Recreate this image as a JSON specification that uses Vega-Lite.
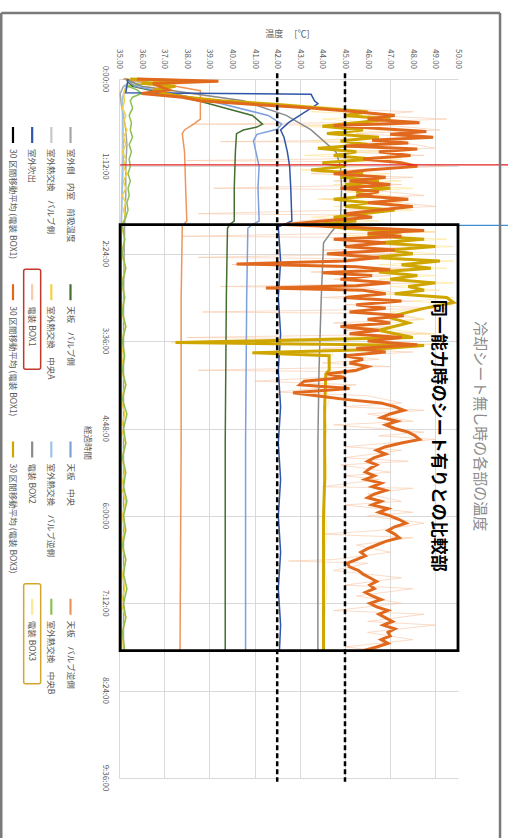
{
"$schema": "https://vega.github.io/schema/vega-lite/v6.json",
"background": "white",
"padding": {"left": 0, "top": 11, "right": 0, "bottom": 0},
"autosize": {"type": "pad"},
"bounds": "flush",
"spacing": 19,
"config": {"view": {"stroke": null}, "font": "Noto Sans CJK JP"},
"datasets": {
"legend": [
{"s":"s1","label":"室外側　内室　前吸温度","row":1,"slot":0},
{"s":"s2","label":"天板　バルブ側","row":1,"slot":1},
{"s":"s3","label":"天板　中央","row":1,"slot":2},
{"s":"s4","label":"天板　バルブ逆側","row":1,"slot":3},
{"s":"s5","label":"室外熱交換　バルブ側","row":2,"slot":0},
{"s":"s6","label":"室外熱交換　中央A","row":2,"slot":1},
{"s":"s7","label":"室外熱交換　バルブ逆側","row":2,"slot":2},
{"s":"s8","label":"室外熱交換　中央B","row":2,"slot":3},
{"s":"s9","label":"室外吹出","row":3,"slot":0},
{"s":"s10","label":"電装 BOX1","row":3,"slot":1},
{"s":"s11","label":"電装 BOX2","row":3,"slot":2},
{"s":"s12","label":"電装 BOX3","row":3,"slot":3},
{"s":"s13","label":"30 区間移動平均 (電装 BOX1)","row":4,"slot":0},
{"s":"s14","label":"30 区間移動平均 (電装 BOX1)","row":4,"slot":1},
{"s":"s15","label":"30 区間移動平均 (電装 BOX3)","row":4,"slot":2}
],
"boxes": [{"box":"BOX1","row":3,"slot":1},{"box":"BOX3","row":3,"slot":3}],
"vticks": [{"tick":35},{"tick":36},{"tick":37},{"tick":38},{"tick":39},{"tick":40},{"tick":41},{"tick":42},{"tick":43},{"tick":44},{"tick":45},{"tick":46},{"tick":47},{"tick":48},{"tick":49},{"tick":50}],
"tticks": [{"tick":0,"lab":"0:00:00"},{"tick":1.2,"lab":"1:12:00"},{"tick":2.4,"lab":"2:24:00"},{"tick":3.6,"lab":"3:36:00"},{"tick":4.8,"lab":"4:48:00"},{"tick":6.0,"lab":"6:00:00"},{"tick":7.2,"lab":"7:12:00"},{"tick":8.4,"lab":"8:24:00"},{"tick":9.6,"lab":"9:36:00"}],
"series": [
{"s":"s1","t":0,"v":35.9},{"s":"s1","t":0.05,"v":35.5},{"s":"s1","t":0.1,"v":35.2},{"s":"s1","t":0.2,"v":35.05},{"s":"s1","t":0.35,"v":35.1},{"s":"s1","t":0.5,"v":35.2},{"s":"s1","t":0.7,"v":35.3},{"s":"s1","t":0.9,"v":35.35},{"s":"s1","t":1.2,"v":35.3},{"s":"s1","t":1.6,"v":35.3},{"s":"s1","t":2.0,"v":35.25},{"s":"s1","t":3,"v":35.2},{"s":"s1","t":5,"v":35.2},{"s":"s1","t":7.85,"v":35.2},
{"s":"s5","t":0,"v":35.2},{"s":"s5","t":0.05,"v":36.2},{"s":"s5","t":0.12,"v":35.3},{"s":"s5","t":0.25,"v":35.15},{"s":"s5","t":1,"v":35.15},{"s":"s5","t":2,"v":35.1},{"s":"s5","t":4,"v":35.1},{"s":"s5","t":7.85,"v":35.1},
{"s":"s7","t":0,"v":35.5},{"s":"s7","t":0.04,"v":36.0},{"s":"s7","t":0.1,"v":35.3},{"s":"s7","t":0.3,"v":35.15},{"s":"s7","t":1,"v":35.2},{"s":"s7","t":2,"v":35.1},{"s":"s7","t":4,"v":35.1},{"s":"s7","t":7.85,"v":35.1},
{"s":"s6","t":0,"v":35.3},{"s":"s6","t":0.03,"v":37.2},{"s":"s6","t":0.07,"v":35.6},{"s":"s6","t":0.12,"v":35.3},{"s":"s6","t":0.2,"v":35.2},{"s":"s6","t":0.3,"v":35.25},{"s":"s6","t":0.4,"v":35.15},{"s":"s6","t":0.5,"v":35.3},{"s":"s6","t":0.6,"v":35.2},{"s":"s6","t":0.7,"v":35.35},{"s":"s6","t":0.8,"v":35.2},{"s":"s6","t":0.9,"v":35.3},{"s":"s6","t":1.0,"v":35.15},{"s":"s6","t":1.1,"v":35.3},{"s":"s6","t":1.2,"v":35.2},{"s":"s6","t":1.3,"v":35.35},{"s":"s6","t":1.4,"v":35.2},{"s":"s6","t":1.5,"v":35.3},{"s":"s6","t":1.6,"v":35.15},{"s":"s6","t":1.7,"v":35.3},{"s":"s6","t":1.8,"v":35.2},{"s":"s6","t":1.9,"v":35.3},{"s":"s6","t":2.0,"v":35.1},{"s":"s6","t":2.2,"v":35.25},{"s":"s6","t":2.4,"v":35.1},{"s":"s6","t":2.6,"v":35.3},{"s":"s6","t":2.8,"v":35.1},{"s":"s6","t":3.0,"v":35.25},{"s":"s6","t":3.2,"v":35.1},{"s":"s6","t":3.4,"v":35.3},{"s":"s6","t":3.6,"v":35.1},{"s":"s6","t":3.8,"v":35.2},{"s":"s6","t":4.0,"v":35.1},{"s":"s6","t":4.2,"v":35.3},{"s":"s6","t":4.4,"v":35.1},{"s":"s6","t":4.6,"v":35.25},{"s":"s6","t":4.8,"v":35.1},{"s":"s6","t":5.0,"v":35.3},{"s":"s6","t":5.2,"v":35.15},{"s":"s6","t":5.4,"v":35.25},{"s":"s6","t":5.6,"v":35.1},{"s":"s6","t":5.8,"v":35.3},{"s":"s6","t":6.0,"v":35.15},{"s":"s6","t":6.2,"v":35.25},{"s":"s6","t":6.4,"v":35.1},{"s":"s6","t":6.6,"v":35.3},{"s":"s6","t":6.8,"v":35.15},{"s":"s6","t":7.0,"v":35.25},{"s":"s6","t":7.2,"v":35.1},{"s":"s6","t":7.4,"v":35.3},{"s":"s6","t":7.6,"v":35.15},{"s":"s6","t":7.85,"v":35.2},
{"s":"s8","t":0,"v":35.2},{"s":"s8","t":0.05,"v":36.5},{"s":"s8","t":0.1,"v":35.4},{"s":"s8","t":0.15,"v":35.8},{"s":"s8","t":0.2,"v":36.0},{"s":"s8","t":0.25,"v":35.6},{"s":"s8","t":0.3,"v":35.5},{"s":"s8","t":0.4,"v":35.6},{"s":"s8","t":0.5,"v":35.45},{"s":"s8","t":0.6,"v":35.55},{"s":"s8","t":0.7,"v":35.5},{"s":"s8","t":0.8,"v":35.6},{"s":"s8","t":0.9,"v":35.45},{"s":"s8","t":1.0,"v":35.55},{"s":"s8","t":1.1,"v":35.45},{"s":"s8","t":1.2,"v":35.5},{"s":"s8","t":1.3,"v":35.4},{"s":"s8","t":1.4,"v":35.5},{"s":"s8","t":1.5,"v":35.4},{"s":"s8","t":1.6,"v":35.45},{"s":"s8","t":1.7,"v":35.35},{"s":"s8","t":1.8,"v":35.4},{"s":"s8","t":1.9,"v":35.3},{"s":"s8","t":2.0,"v":35.15},{"s":"s8","t":2.2,"v":35.25},{"s":"s8","t":2.4,"v":35.15},{"s":"s8","t":2.6,"v":35.3},{"s":"s8","t":2.8,"v":35.15},{"s":"s8","t":3.0,"v":35.25},{"s":"s8","t":3.2,"v":35.15},{"s":"s8","t":3.4,"v":35.3},{"s":"s8","t":3.6,"v":35.15},{"s":"s8","t":3.8,"v":35.25},{"s":"s8","t":4.0,"v":35.15},{"s":"s8","t":4.2,"v":35.3},{"s":"s8","t":4.4,"v":35.15},{"s":"s8","t":4.6,"v":35.35},{"s":"s8","t":4.8,"v":35.2},{"s":"s8","t":5.0,"v":35.3},{"s":"s8","t":5.2,"v":35.15},{"s":"s8","t":5.4,"v":35.3},{"s":"s8","t":5.6,"v":35.2},{"s":"s8","t":5.8,"v":35.35},{"s":"s8","t":6.0,"v":35.2},{"s":"s8","t":6.2,"v":35.3},{"s":"s8","t":6.4,"v":35.15},{"s":"s8","t":6.6,"v":35.3},{"s":"s8","t":6.8,"v":35.2},{"s":"s8","t":7.0,"v":35.35},{"s":"s8","t":7.2,"v":35.2},{"s":"s8","t":7.4,"v":35.3},{"s":"s8","t":7.6,"v":35.15},{"s":"s8","t":7.85,"v":35.25},
{"s":"s2","t":0,"v":35.3},{"s":"s2","t":0.1,"v":35.6},{"s":"s2","t":0.3,"v":38.5},{"s":"s2","t":0.5,"v":40.9},{"s":"s2","t":0.62,"v":41.35},{"s":"s2","t":0.66,"v":41.1},{"s":"s2","t":0.7,"v":40.5},{"s":"s2","t":0.75,"v":40.2},{"s":"s2","t":1.0,"v":40.15},{"s":"s2","t":1.5,"v":40.1},{"s":"s2","t":1.95,"v":40.1},{"s":"s2","t":2.0,"v":39.9},{"s":"s2","t":2.05,"v":39.8},{"s":"s2","t":3.0,"v":39.75},{"s":"s2","t":5.0,"v":39.7},{"s":"s2","t":7.85,"v":39.7},
{"s":"s3","t":0,"v":35.3},{"s":"s3","t":0.1,"v":35.7},{"s":"s3","t":0.3,"v":39.0},{"s":"s3","t":0.5,"v":41.6},{"s":"s3","t":0.62,"v":42.2},{"s":"s3","t":0.69,"v":42.0},{"s":"s3","t":0.76,"v":41.1},{"s":"s3","t":0.85,"v":40.95},{"s":"s3","t":1.2,"v":41.2},{"s":"s3","t":1.5,"v":41.15},{"s":"s3","t":1.95,"v":41.2},{"s":"s3","t":2.0,"v":40.9},{"s":"s3","t":2.05,"v":40.7},{"s":"s3","t":3.0,"v":40.65},{"s":"s3","t":5.0,"v":40.6},{"s":"s3","t":7.85,"v":40.6},
{"s":"s4","t":0,"v":35.2},{"s":"s4","t":0.1,"v":37.5},{"s":"s4","t":0.16,"v":38.6},{"s":"s4","t":0.55,"v":38.6},{"s":"s4","t":0.62,"v":38.3},{"s":"s4","t":0.7,"v":37.9},{"s":"s4","t":0.75,"v":37.8},{"s":"s4","t":1.0,"v":37.9},{"s":"s4","t":1.5,"v":37.95},{"s":"s4","t":1.95,"v":38.0},{"s":"s4","t":2.02,"v":37.8},{"s":"s4","t":3.0,"v":37.75},{"s":"s4","t":5.0,"v":37.75},{"s":"s4","t":7.85,"v":37.7},
{"s":"s11","t":0,"v":35.3},{"s":"s11","t":0.1,"v":36.0},{"s":"s11","t":0.3,"v":40.5},{"s":"s11","t":0.5,"v":42.4},{"s":"s11","t":0.7,"v":43.5},{"s":"s11","t":1.0,"v":44.6},{"s":"s11","t":1.2,"v":44.8},{"s":"s11","t":1.5,"v":44.85},{"s":"s11","t":1.95,"v":44.8},{"s":"s11","t":2.1,"v":44.4},{"s":"s11","t":2.25,"v":44.05},{"s":"s11","t":3.0,"v":43.95},{"s":"s11","t":4.0,"v":43.85},{"s":"s11","t":5.0,"v":43.8},{"s":"s11","t":6.0,"v":43.8},{"s":"s11","t":7.85,"v":43.8},
{"s":"s9","t":0,"v":35.4},{"s":"s9","t":0.19,"v":35.3},{"s":"s9","t":0.21,"v":43.5},{"s":"s9","t":0.3,"v":43.65},{"s":"s9","t":0.34,"v":43.8},{"s":"s9","t":0.4,"v":43.5},{"s":"s9","t":0.5,"v":43.0},{"s":"s9","t":0.6,"v":42.5},{"s":"s9","t":0.7,"v":42.15},{"s":"s9","t":0.8,"v":42.3},{"s":"s9","t":1.0,"v":42.45},{"s":"s9","t":1.2,"v":42.55},{"s":"s9","t":1.5,"v":42.6},{"s":"s9","t":1.95,"v":42.65},{"s":"s9","t":2.0,"v":42.3},{"s":"s9","t":2.03,"v":42.05},{"s":"s9","t":2.5,"v":42.15},{"s":"s9","t":3.0,"v":42.05},{"s":"s9","t":3.5,"v":42.15},{"s":"s9","t":4.0,"v":42.05},{"s":"s9","t":4.5,"v":42.15},{"s":"s9","t":5.0,"v":42.05},{"s":"s9","t":5.5,"v":42.15},{"s":"s9","t":6.0,"v":42.05},{"s":"s9","t":6.5,"v":42.15},{"s":"s9","t":7.0,"v":42.05},{"s":"s9","t":7.5,"v":42.15},{"s":"s9","t":7.85,"v":42.1},
{"s":"s10","t":0,"v":35.5},{"s":"s10","t":0.05,"v":38.5},{"s":"s10","t":0.1,"v":36.5},{"s":"s10","t":0.2,"v":37.5},{"s":"s10","t":0.3,"v":39.0},{"s":"s10","t":0.4,"v":44.0},{"s":"s10","t":0.45,"v":48.0},{"s":"s10","t":0.5,"v":46.0},{"s":"s10","t":0.55,"v":49.5},{"s":"s10","t":0.6,"v":45.0},{"s":"s10","t":0.62,"v":38.2},{"s":"s10","t":0.64,"v":47.0},{"s":"s10","t":0.7,"v":49.2},{"s":"s10","t":0.75,"v":45.5},{"s":"s10","t":0.8,"v":48.5},{"s":"s10","t":0.85,"v":43.0},{"s":"s10","t":0.86,"v":39.5},{"s":"s10","t":0.87,"v":47.5},{"s":"s10","t":0.95,"v":49.0},{"s":"s10","t":1.0,"v":45.0},{"s":"s10","t":1.05,"v":48.5},{"s":"s10","t":1.1,"v":44.0},{"s":"s10","t":1.12,"v":38.0},{"s":"s10","t":1.14,"v":47.0},{"s":"s10","t":1.2,"v":49.5},{"s":"s10","t":1.25,"v":45.0},{"s":"s10","t":1.3,"v":43.5},{"s":"s10","t":1.35,"v":48.0},{"s":"s10","t":1.4,"v":44.5},{"s":"s10","t":1.45,"v":47.5},{"s":"s10","t":1.5,"v":39.2},{"s":"s10","t":1.52,"v":46.0},{"s":"s10","t":1.6,"v":48.5},{"s":"s10","t":1.65,"v":44.0},{"s":"s10","t":1.7,"v":47.5},{"s":"s10","t":1.75,"v":49.0},{"s":"s10","t":1.8,"v":45.0},{"s":"s10","t":1.85,"v":38.5},{"s":"s10","t":1.87,"v":46.0},{"s":"s10","t":1.95,"v":43.0},{"s":"s10","t":2.0,"v":42.0},{"s":"s10","t":2.05,"v":46.5},{"s":"s10","t":2.1,"v":49.0},{"s":"s10","t":2.16,"v":37.8},{"s":"s10","t":2.18,"v":47.0},{"s":"s10","t":2.25,"v":45.0},{"s":"s10","t":2.3,"v":48.5},{"s":"s10","t":2.35,"v":44.0},{"s":"s10","t":2.4,"v":47.5},{"s":"s10","t":2.45,"v":38.5},{"s":"s10","t":2.47,"v":46.5},{"s":"s10","t":2.55,"v":40.0},{"s":"s10","t":2.6,"v":48.0},{"s":"s10","t":2.65,"v":43.5},{"s":"s10","t":2.7,"v":47.0},{"s":"s10","t":2.75,"v":44.5},{"s":"s10","t":2.8,"v":49.0},{"s":"s10","t":2.85,"v":39.5},{"s":"s10","t":2.87,"v":46.0},{"s":"s10","t":2.95,"v":47.5},{"s":"s10","t":3.0,"v":44.0},{"s":"s10","t":3.05,"v":48.0},{"s":"s10","t":3.1,"v":45.0},{"s":"s10","t":3.15,"v":49.5},{"s":"s10","t":3.2,"v":38.7},{"s":"s10","t":3.22,"v":46.5},{"s":"s10","t":3.3,"v":48.5},{"s":"s10","t":3.35,"v":44.5},{"s":"s10","t":3.4,"v":47.0},{"s":"s10","t":3.45,"v":45.0},{"s":"s10","t":3.5,"v":48.8},{"s":"s10","t":3.55,"v":38.0},{"s":"s10","t":3.57,"v":46.0},{"s":"s10","t":3.65,"v":47.5},{"s":"s10","t":3.7,"v":44.0},{"s":"s10","t":3.75,"v":48.0},{"s":"s10","t":3.8,"v":45.0},{"s":"s10","t":3.85,"v":46.5},{"s":"s10","t":3.9,"v":44.0},{"s":"s10","t":3.95,"v":47.0},{"s":"s10","t":4.0,"v":38.5},{"s":"s10","t":4.02,"v":45.5},{"s":"s10","t":4.1,"v":44.0},{"s":"s10","t":4.15,"v":41.0},{"s":"s10","t":4.2,"v":45.5},{"s":"s10","t":4.3,"v":42.0},{"s":"s10","t":4.35,"v":46.0},{"s":"s10","t":4.45,"v":47.5},{"s":"s10","t":4.5,"v":45.0},{"s":"s10","t":4.55,"v":48.5},{"s":"s10","t":4.6,"v":46.0},{"s":"s10","t":4.7,"v":48.0},{"s":"s10","t":4.75,"v":44.5},{"s":"s10","t":4.85,"v":48.5},{"s":"s10","t":4.9,"v":46.5},{"s":"s10","t":4.95,"v":49.0},{"s":"s10","t":5.0,"v":47.0},{"s":"s10","t":5.05,"v":45.0},{"s":"s10","t":5.1,"v":47.5},{"s":"s10","t":5.2,"v":45.0},{"s":"s10","t":5.25,"v":47.8},{"s":"s10","t":5.3,"v":44.8},{"s":"s10","t":5.4,"v":47.0},{"s":"s10","t":5.45,"v":45.0},{"s":"s10","t":5.5,"v":46.5},{"s":"s10","t":5.6,"v":44.0},{"s":"s10","t":5.62,"v":48.0},{"s":"s10","t":5.7,"v":46.0},{"s":"s10","t":5.8,"v":47.5},{"s":"s10","t":5.85,"v":45.0},{"s":"s10","t":5.95,"v":48.0},{"s":"s10","t":6.0,"v":46.0},{"s":"s10","t":6.1,"v":48.5},{"s":"s10","t":6.2,"v":46.5},{"s":"s10","t":6.25,"v":44.0},{"s":"s10","t":6.3,"v":48.0},{"s":"s10","t":6.4,"v":45.5},{"s":"s10","t":6.5,"v":47.0},{"s":"s10","t":6.6,"v":44.5},{"s":"s10","t":6.62,"v":42.5},{"s":"s10","t":6.65,"v":46.0},{"s":"s10","t":6.75,"v":44.5},{"s":"s10","t":6.85,"v":47.5},{"s":"s10","t":6.95,"v":45.0},{"s":"s10","t":7.0,"v":48.0},{"s":"s10","t":7.1,"v":45.5},{"s":"s10","t":7.2,"v":47.5},{"s":"s10","t":7.3,"v":44.5},{"s":"s10","t":7.35,"v":48.5},{"s":"s10","t":7.45,"v":46.0},{"s":"s10","t":7.5,"v":49.0},{"s":"s10","t":7.6,"v":46.0},{"s":"s10","t":7.7,"v":48.0},{"s":"s10","t":7.8,"v":45.0},{"s":"s10","t":7.85,"v":46.5},
{"s":"s12","t":0,"v":35.3},{"s":"s12","t":0.05,"v":37.5},{"s":"s12","t":0.1,"v":36.2},{"s":"s12","t":0.2,"v":38.0},{"s":"s12","t":0.3,"v":40.5},{"s":"s12","t":0.4,"v":45.0},{"s":"s12","t":0.45,"v":43.5},{"s":"s12","t":0.5,"v":47.0},{"s":"s12","t":0.55,"v":44.0},{"s":"s12","t":0.6,"v":46.5},{"s":"s12","t":0.65,"v":43.0},{"s":"s12","t":0.7,"v":47.5},{"s":"s12","t":0.75,"v":44.5},{"s":"s12","t":0.8,"v":46.0},{"s":"s12","t":0.85,"v":43.5},{"s":"s12","t":0.9,"v":47.0},{"s":"s12","t":0.95,"v":44.0},{"s":"s12","t":1.0,"v":46.5},{"s":"s12","t":1.05,"v":43.2},{"s":"s12","t":1.1,"v":47.5},{"s":"s12","t":1.15,"v":44.5},{"s":"s12","t":1.2,"v":46.0},{"s":"s12","t":1.25,"v":43.0},{"s":"s12","t":1.3,"v":47.0},{"s":"s12","t":1.35,"v":45.0},{"s":"s12","t":1.4,"v":47.5},{"s":"s12","t":1.45,"v":44.5},{"s":"s12","t":1.5,"v":48.0},{"s":"s12","t":1.55,"v":45.0},{"s":"s12","t":1.6,"v":47.0},{"s":"s12","t":1.65,"v":43.8},{"s":"s12","t":1.7,"v":47.5},{"s":"s12","t":1.75,"v":44.5},{"s":"s12","t":1.8,"v":48.0},{"s":"s12","t":1.85,"v":45.5},{"s":"s12","t":1.9,"v":43.5},{"s":"s12","t":1.95,"v":46.5},{"s":"s12","t":2.0,"v":43.5},{"s":"s12","t":2.05,"v":46.0},{"s":"s12","t":2.1,"v":49.0},{"s":"s12","t":2.15,"v":45.0},{"s":"s12","t":2.2,"v":49.5},{"s":"s12","t":2.25,"v":46.0},{"s":"s12","t":2.3,"v":49.8},{"s":"s12","t":2.35,"v":46.5},{"s":"s12","t":2.4,"v":49.0},{"s":"s12","t":2.45,"v":45.5},{"s":"s12","t":2.5,"v":49.8},{"s":"s12","t":2.55,"v":46.5},{"s":"s12","t":2.6,"v":49.5},{"s":"s12","t":2.65,"v":45.8},{"s":"s12","t":2.7,"v":49.0},{"s":"s12","t":2.75,"v":46.5},{"s":"s12","t":2.8,"v":49.8},{"s":"s12","t":2.85,"v":47.0},{"s":"s12","t":2.9,"v":49.2},{"s":"s12","t":2.95,"v":46.5},{"s":"s12","t":3.0,"v":49.8},{"s":"s12","t":3.05,"v":48.0},{"s":"s12","t":3.1,"v":49.8},{"s":"s12","t":3.2,"v":47.0},{"s":"s12","t":3.3,"v":48.5},{"s":"s12","t":3.4,"v":45.5},{"s":"s12","t":3.5,"v":49.0},{"s":"s12","t":3.6,"v":40.0},{"s":"s12","t":3.62,"v":37.3},{"s":"s12","t":3.64,"v":49.0},{"s":"s12","t":3.7,"v":46.0},{"s":"s12","t":3.75,"v":41.0},{"s":"s12","t":3.78,"v":44.5},{"s":"s12","t":3.85,"v":44.2},{"s":"s12","t":4.0,"v":44.4},{"s":"s12","t":4.2,"v":44.1},{"s":"s12","t":4.4,"v":44.3},{"s":"s12","t":4.6,"v":44.1},{"s":"s12","t":4.8,"v":44.2},{"s":"s12","t":5.0,"v":44.1},{"s":"s12","t":5.4,"v":44.2},{"s":"s12","t":5.8,"v":44.1},{"s":"s12","t":6.2,"v":44.2},{"s":"s12","t":6.6,"v":44.1},{"s":"s12","t":7.0,"v":44.2},{"s":"s12","t":7.4,"v":44.1},{"s":"s12","t":7.85,"v":44.1},
{"s":"s15","t":0,"v":35.5},{"s":"s15","t":0.03,"v":38.5},{"s":"s15","t":0.06,"v":36.0},{"s":"s15","t":0.1,"v":37.5},{"s":"s15","t":0.15,"v":36.5},{"s":"s15","t":0.2,"v":37.0},{"s":"s15","t":0.25,"v":38.0},{"s":"s15","t":0.3,"v":39.5},{"s":"s15","t":0.35,"v":42.0},{"s":"s15","t":0.4,"v":44.0},{"s":"s15","t":0.45,"v":46.0},{"s":"s15","t":0.5,"v":45.0},{"s":"s15","t":0.55,"v":47.0},{"s":"s15","t":0.6,"v":45.5},{"s":"s15","t":0.65,"v":44.0},{"s":"s15","t":0.7,"v":45.8},{"s":"s15","t":0.75,"v":44.2},{"s":"s15","t":0.8,"v":46.5},{"s":"s15","t":0.85,"v":44.8},{"s":"s15","t":0.9,"v":46.0},{"s":"s15","t":0.95,"v":43.8},{"s":"s15","t":1.0,"v":45.5},{"s":"s15","t":1.05,"v":44.5},{"s":"s15","t":1.1,"v":46.2},{"s":"s15","t":1.15,"v":44.0},{"s":"s15","t":1.2,"v":45.0},{"s":"s15","t":1.25,"v":43.5},{"s":"s15","t":1.3,"v":45.8},{"s":"s15","t":1.35,"v":44.8},{"s":"s15","t":1.4,"v":46.5},{"s":"s15","t":1.45,"v":45.0},{"s":"s15","t":1.5,"v":47.0},{"s":"s15","t":1.55,"v":45.5},{"s":"s15","t":1.6,"v":46.2},{"s":"s15","t":1.65,"v":44.5},{"s":"s15","t":1.7,"v":46.0},{"s":"s15","t":1.75,"v":45.0},{"s":"s15","t":1.8,"v":47.2},{"s":"s15","t":1.85,"v":45.8},{"s":"s15","t":1.9,"v":44.5},{"s":"s15","t":1.95,"v":45.5},{"s":"s15","t":2.0,"v":43.5},{"s":"s15","t":2.05,"v":45.0},{"s":"s15","t":2.1,"v":47.5},{"s":"s15","t":2.15,"v":46.0},{"s":"s15","t":2.2,"v":48.5},{"s":"s15","t":2.25,"v":46.5},{"s":"s15","t":2.3,"v":49.0},{"s":"s15","t":2.35,"v":47.0},{"s":"s15","t":2.4,"v":48.0},{"s":"s15","t":2.45,"v":46.2},{"s":"s15","t":2.5,"v":49.2},{"s":"s15","t":2.55,"v":47.5},{"s":"s15","t":2.6,"v":48.8},{"s":"s15","t":2.65,"v":46.5},{"s":"s15","t":2.7,"v":48.2},{"s":"s15","t":2.75,"v":47.0},{"s":"s15","t":2.8,"v":49.0},{"s":"s15","t":2.85,"v":47.8},{"s":"s15","t":2.9,"v":48.5},{"s":"s15","t":2.95,"v":47.2},{"s":"s15","t":3.0,"v":49.5},{"s":"s15","t":3.07,"v":49.8},{"s":"s15","t":3.15,"v":48.5},{"s":"s15","t":3.27,"v":46.9},{"s":"s15","t":3.35,"v":47.8},{"s":"s15","t":3.45,"v":46.5},{"s":"s15","t":3.55,"v":48.0},{"s":"s15","t":3.62,"v":37.5},{"s":"s15","t":3.66,"v":48.5},{"s":"s15","t":3.72,"v":46.0},{"s":"s15","t":3.76,"v":40.9},{"s":"s15","t":3.8,"v":44.3},{"s":"s15","t":3.9,"v":44.3},{"s":"s15","t":4.0,"v":44.3},{"s":"s15","t":4.05,"v":44.15},{"s":"s15","t":4.5,"v":44.1},{"s":"s15","t":5.0,"v":44.1},{"s":"s15","t":5.5,"v":44.1},{"s":"s15","t":6.0,"v":44.05},{"s":"s15","t":6.5,"v":44.05},{"s":"s15","t":7.0,"v":44.05},{"s":"s15","t":7.5,"v":44.05},{"s":"s15","t":7.85,"v":44.05},
{"s":"s14","t":0,"v":35.8},{"s":"s14","t":0.03,"v":39.4},{"s":"s14","t":0.06,"v":36.5},{"s":"s14","t":0.1,"v":36.8},{"s":"s14","t":0.15,"v":37.2},{"s":"s14","t":0.2,"v":36.0},{"s":"s14","t":0.25,"v":37.8},{"s":"s14","t":0.3,"v":38.6},{"s":"s14","t":0.35,"v":41.0},{"s":"s14","t":0.4,"v":43.5},{"s":"s14","t":0.45,"v":45.5},{"s":"s14","t":0.5,"v":47.2},{"s":"s14","t":0.55,"v":46.0},{"s":"s14","t":0.6,"v":48.3},{"s":"s14","t":0.64,"v":44.5},{"s":"s14","t":0.68,"v":46.5},{"s":"s14","t":0.72,"v":48.6},{"s":"s14","t":0.76,"v":47.0},{"s":"s14","t":0.8,"v":48.9},{"s":"s14","t":0.84,"v":46.2},{"s":"s14","t":0.88,"v":47.8},{"s":"s14","t":0.92,"v":45.0},{"s":"s14","t":0.96,"v":48.2},{"s":"s14","t":1.0,"v":46.5},{"s":"s14","t":1.05,"v":47.9},{"s":"s14","t":1.1,"v":45.8},{"s":"s14","t":1.15,"v":47.5},{"s":"s14","t":1.2,"v":48.2},{"s":"s14","t":1.25,"v":46.0},{"s":"s14","t":1.3,"v":44.5},{"s":"s14","t":1.35,"v":46.8},{"s":"s14","t":1.4,"v":45.2},{"s":"s14","t":1.45,"v":47.0},{"s":"s14","t":1.5,"v":44.8},{"s":"s14","t":1.55,"v":46.5},{"s":"s14","t":1.6,"v":45.5},{"s":"s14","t":1.65,"v":47.8},{"s":"s14","t":1.7,"v":46.0},{"s":"s14","t":1.75,"v":48.0},{"s":"s14","t":1.8,"v":46.5},{"s":"s14","t":1.85,"v":45.0},{"s":"s14","t":1.9,"v":46.2},{"s":"s14","t":1.95,"v":44.0},{"s":"s14","t":2.0,"v":42.3},{"s":"s14","t":2.04,"v":45.5},{"s":"s14","t":2.08,"v":48.5},{"s":"s14","t":2.12,"v":46.0},{"s":"s14","t":2.16,"v":47.5},{"s":"s14","t":2.2,"v":44.5},{"s":"s14","t":2.25,"v":46.8},{"s":"s14","t":2.3,"v":45.0},{"s":"s14","t":2.35,"v":47.2},{"s":"s14","t":2.4,"v":44.2},{"s":"s14","t":2.45,"v":46.5},{"s":"s14","t":2.5,"v":45.0},{"s":"s14","t":2.54,"v":40.2},{"s":"s14","t":2.58,"v":45.5},{"s":"s14","t":2.62,"v":47.0},{"s":"s14","t":2.66,"v":44.0},{"s":"s14","t":2.7,"v":46.2},{"s":"s14","t":2.75,"v":44.8},{"s":"s14","t":2.8,"v":47.0},{"s":"s14","t":2.84,"v":45.5},{"s":"s14","t":2.87,"v":41.5},{"s":"s14","t":2.9,"v":45.8},{"s":"s14","t":2.95,"v":46.8},{"s":"s14","t":3.0,"v":45.0},{"s":"s14","t":3.05,"v":47.5},{"s":"s14","t":3.1,"v":45.5},{"s":"s14","t":3.15,"v":46.8},{"s":"s14","t":3.2,"v":45.2},{"s":"s14","t":3.25,"v":47.6},{"s":"s14","t":3.3,"v":46.0},{"s":"s14","t":3.35,"v":47.0},{"s":"s14","t":3.4,"v":44.8},{"s":"s14","t":3.45,"v":46.5},{"s":"s14","t":3.5,"v":45.2},{"s":"s14","t":3.55,"v":47.5},{"s":"s14","t":3.6,"v":46.0},{"s":"s14","t":3.65,"v":48.2},{"s":"s14","t":3.7,"v":45.5},{"s":"s14","t":3.75,"v":46.8},{"s":"s14","t":3.8,"v":45.0},{"s":"s14","t":3.85,"v":45.8},{"s":"s14","t":3.9,"v":45.2},{"s":"s14","t":3.95,"v":46.0},{"s":"s14","t":4.0,"v":45.5},{"s":"s14","t":4.05,"v":44.2},{"s":"s14","t":4.1,"v":45.0},{"s":"s14","t":4.15,"v":43.2},{"s":"s14","t":4.2,"v":43.0},{"s":"s14","t":4.25,"v":45.2},{"s":"s14","t":4.31,"v":42.7},{"s":"s14","t":4.36,"v":44.0},{"s":"s14","t":4.4,"v":45.0},{"s":"s14","t":4.45,"v":46.6},{"s":"s14","t":4.5,"v":47.2},{"s":"s14","t":4.55,"v":47.6},{"s":"s14","t":4.6,"v":47.0},{"s":"s14","t":4.65,"v":46.6},{"s":"s14","t":4.7,"v":47.3},{"s":"s14","t":4.75,"v":46.8},{"s":"s14","t":4.8,"v":47.2},{"s":"s14","t":4.85,"v":47.8},{"s":"s14","t":4.9,"v":48.1},{"s":"s14","t":4.95,"v":48.3},{"s":"s14","t":5.0,"v":47.5},{"s":"s14","t":5.05,"v":46.8},{"s":"s14","t":5.1,"v":46.4},{"s":"s14","t":5.15,"v":46.8},{"s":"s14","t":5.2,"v":46.3},{"s":"s14","t":5.25,"v":46.0},{"s":"s14","t":5.3,"v":46.4},{"s":"s14","t":5.35,"v":46.1},{"s":"s14","t":5.4,"v":45.9},{"s":"s14","t":5.45,"v":46.3},{"s":"s14","t":5.5,"v":45.9},{"s":"s14","t":5.55,"v":46.6},{"s":"s14","t":5.6,"v":46.2},{"s":"s14","t":5.65,"v":46.8},{"s":"s14","t":5.7,"v":46.3},{"s":"s14","t":5.75,"v":46.0},{"s":"s14","t":5.8,"v":46.6},{"s":"s14","t":5.85,"v":46.2},{"s":"s14","t":5.9,"v":46.9},{"s":"s14","t":5.95,"v":46.5},{"s":"s14","t":6.0,"v":47.0},{"s":"s14","t":6.05,"v":47.4},{"s":"s14","t":6.1,"v":47.7},{"s":"s14","t":6.15,"v":47.2},{"s":"s14","t":6.2,"v":46.9},{"s":"s14","t":6.25,"v":47.2},{"s":"s14","t":6.3,"v":47.4},{"s":"s14","t":6.35,"v":46.8},{"s":"s14","t":6.4,"v":46.4},{"s":"s14","t":6.45,"v":46.0},{"s":"s14","t":6.5,"v":45.7},{"s":"s14","t":6.55,"v":45.9},{"s":"s14","t":6.6,"v":45.5},{"s":"s14","t":6.65,"v":45.1},{"s":"s14","t":6.7,"v":45.2},{"s":"s14","t":6.75,"v":45.6},{"s":"s14","t":6.8,"v":45.8},{"s":"s14","t":6.85,"v":46.1},{"s":"s14","t":6.9,"v":46.4},{"s":"s14","t":6.95,"v":46.1},{"s":"s14","t":7.0,"v":46.3},{"s":"s14","t":7.05,"v":45.9},{"s":"s14","t":7.1,"v":46.2},{"s":"s14","t":7.15,"v":46.6},{"s":"s14","t":7.2,"v":46.1},{"s":"s14","t":7.25,"v":46.4},{"s":"s14","t":7.3,"v":46.9},{"s":"s14","t":7.35,"v":46.5},{"s":"s14","t":7.4,"v":46.8},{"s":"s14","t":7.45,"v":47.1},{"s":"s14","t":7.5,"v":46.7},{"s":"s14","t":7.55,"v":47.2},{"s":"s14","t":7.6,"v":46.9},{"s":"s14","t":7.65,"v":47.0},{"s":"s14","t":7.7,"v":46.6},{"s":"s14","t":7.75,"v":46.9},{"s":"s14","t":7.8,"v":46.4},{"s":"s14","t":7.85,"v":45.8}
]
},
"hconcat": [
{
"width": 100, "height": 699,
"layer": [
{"data": {"name": "legend"},
 "mark": {"type": "rule", "strokeWidth": 2.2, "yOffset": -22, "y2Offset": -6},
 "encoding": {
  "x": {"field": "row", "type": "quantitative", "scale": {"domain": [-0.539, 4.678], "reverse": true, "nice": false, "zero": false}, "axis": null},
  "y": {"field": "slot", "type": "quantitative", "scale": {"domain": [-0.445, 4.0], "reverse": true, "nice": false, "zero": false}, "axis": null},
  "y2": {"field": "slot"},
  "color": {"field": "s", "type": "nominal", "legend": null, "scale": {"domain": ["s1","s2","s3","s4","s5","s6","s7","s8","s9","s10","s11","s12","s13","s14","s15"], "range": ["#a6a6a6","#44702f","#7f9fdc","#f0955a","#c8c8c8","#f5d040","#9dc3e6","#8cc152","#2f56a8","#f8cbad","#8a8a8a","#ffe699","#000000","#e0691e","#cfa600"]}}
 }},
{"data": {"name": "legend"},
 "mark": {"type": "text", "angle": 90, "align": "left", "baseline": "middle", "fontSize": 8.5, "color": "#595959"},
 "encoding": {
  "x": {"field": "row", "type": "quantitative"},
  "y": {"field": "slot", "type": "quantitative"},
  "text": {"field": "label"}
 }},
{"data": {"name": "boxes"},
 "mark": {"type": "rect", "fillOpacity": 0, "strokeWidth": 1.5, "cornerRadius": 2, "xOffset": -8.5, "x2Offset": 8.5, "yOffset": -37, "y2Offset": 63},
 "encoding": {
  "x": {"field": "row", "type": "quantitative"},
  "x2": {"field": "row"},
  "y": {"field": "slot", "type": "quantitative"},
  "y2": {"field": "slot"},
  "stroke": {"field": "box", "type": "nominal", "legend": null, "scale": {"domain": ["BOX1","BOX3"], "range": ["#c0392b","#d4a72c"]}}
 }}
]
},
{
"width": 339, "height": 699,
"layer": [
{"data": {"name": "series"},
 "transform": [{"filter": "datum.s === 's10' || datum.s === 's12'"}],
 "mark": {"type": "line", "strokeWidth": 0.8, "opacity": 0.85},
 "encoding": {
  "x": {"field": "v", "type": "quantitative", "scale": {"domain": [35, 50], "nice": false, "zero": false},
   "axis": {"orient": "top", "values": [35,36,37,38,39,40,41,42,43,44,45,46,47,48,49,50], "labels": false, "ticks": false, "domain": false, "grid": true, "gridColor": "#d9d9d9", "gridWidth": 1, "title": null}},
  "y": {"field": "t", "type": "quantitative", "scale": {"domain": [0, 9.6], "reverse": true, "nice": false, "zero": false},
   "axis": {"orient": "left", "values": [0,1.2,2.4,3.6,4.8,6,7.2,8.4,9.6], "labels": false, "ticks": false, "domain": false, "grid": true, "gridColor": "#d9d9d9", "gridWidth": 1, "title": null}},
  "color": {"field": "s", "type": "nominal", "legend": null, "scale": {"domain": ["s1","s2","s3","s4","s5","s6","s7","s8","s9","s10","s11","s12","s13","s14","s15"], "range": ["#a6a6a6","#44702f","#7f9fdc","#f0955a","#c8c8c8","#f5d040","#9dc3e6","#8cc152","#2f56a8","#f5b88e","#8a8a8a","#f2d270","#000000","#e0691e","#cfa600"]}},
  "order": {"field": "t", "type": "quantitative"}
 }},
{"data": {"name": "series"},
 "transform": [{"filter": "indexof(['s1','s5','s6','s7','s8'], datum.s) >= 0"}],
 "mark": {"type": "line"},
 "encoding": {
  "x": {"field": "v", "type": "quantitative"},
  "y": {"field": "t", "type": "quantitative"},
  "color": {"field": "s", "type": "nominal", "legend": null},
  "strokeWidth": {"field": "s", "type": "nominal", "legend": null, "scale": {"domain": ["s1","s5","s6","s7","s8"], "range": [1.5,1.5,2,1.5,2.8]}},
  "order": {"field": "t", "type": "quantitative"}
 }},
{"data": {"name": "series"},
 "transform": [{"filter": "indexof(['s2','s3','s4','s9','s11'], datum.s) >= 0"}],
 "mark": {"type": "line"},
 "encoding": {
  "x": {"field": "v", "type": "quantitative"},
  "y": {"field": "t", "type": "quantitative"},
  "color": {"field": "s", "type": "nominal", "legend": null},
  "strokeWidth": {"field": "s", "type": "nominal", "legend": null, "scale": {"domain": ["s2","s3","s4","s9","s11"], "range": [2,1.8,1.4,3.2,2.6]}},
  "order": {"field": "t", "type": "quantitative"}
 }},
{"data": {"name": "series"},
 "transform": [{"filter": "datum.s === 's15' || datum.s === 's14'"}],
 "mark": {"type": "line", "strokeWidth": 3},
 "encoding": {
  "x": {"field": "v", "type": "quantitative"},
  "y": {"field": "t", "type": "quantitative"},
  "color": {"field": "s", "type": "nominal", "legend": null},
  "order": {"field": "t", "type": "quantitative"}
 }},
{"data": {"values": [{"ref": 42}, {"ref": 45}]},
 "mark": {"type": "rule", "color": "#000000", "strokeWidth": 2.5, "strokeDash": [5, 3]},
 "encoding": {"x": {"field": "ref", "type": "quantitative"}, "y": {"datum": -0.08}, "y2": {"datum": 9.65}}},
{"data": {"values": [{}]},
 "mark": {"type": "rule", "color": "#e02020", "strokeWidth": 1.2},
 "encoding": {"x": {"datum": 35.05}, "x2": {"datum": 52.3}, "y": {"datum": 1.18}}},
{"data": {"values": [{}]},
 "mark": {"type": "rule", "color": "#3d8fd6", "strokeWidth": 1.2},
 "encoding": {"x": {"datum": 35.05}, "x2": {"datum": 52.3}, "y": {"datum": 2.01}}},
{"data": {"values": [{}]},
 "mark": {"type": "rect", "fillOpacity": 0, "stroke": "#000000", "strokeWidth": 2.8},
 "encoding": {"x": {"datum": 35.05}, "x2": {"datum": 50}, "y": {"datum": 2.0}, "y2": {"datum": 7.85}}},
{"data": {"name": "vticks"},
 "mark": {"type": "text", "angle": 90, "align": "right", "baseline": "middle", "fontSize": 8, "color": "#595959"},
 "encoding": {"x": {"field": "tick", "type": "quantitative"}, "y": {"datum": -0.137}, "text": {"field": "tick", "type": "quantitative", "format": ".2f"}}},
{"data": {"name": "tticks"},
 "mark": {"type": "text", "angle": 90, "align": "center", "baseline": "middle", "fontSize": 8, "color": "#595959"},
 "encoding": {"x": {"datum": 34.38}, "y": {"field": "tick", "type": "quantitative"}, "text": {"field": "lab"}}},
{"data": {"values": [{"label": "温度　 [℃]"}]},
 "mark": {"type": "text", "align": "center", "baseline": "middle", "fontSize": 9, "color": "#595959"},
 "encoding": {"x": {"datum": 42.45}, "y": {"datum": -0.618}, "text": {"field": "label"}}},
{"data": {"values": [{"label": "経過時間"}]},
 "mark": {"type": "text", "angle": 90, "align": "center", "baseline": "middle", "fontSize": 8.5, "color": "#595959"},
 "encoding": {"x": {"datum": 33.63}, "y": {"datum": 5.0}, "text": {"field": "label"}}},
{"data": {"values": [{"label": "同一能力時のシート有りとの比較部"}]},
 "mark": {"type": "text", "angle": 90, "align": "center", "baseline": "middle", "fontSize": 17, "fontWeight": "bold", "color": "#000000"},
 "encoding": {"x": {"datum": 49.1}, "y": {"datum": 4.9}, "text": {"field": "label"}}},
{"data": {"values": [{"label": "冷却シート無し時の各部の温度"}]},
 "mark": {"type": "text", "angle": 90, "align": "center", "baseline": "middle", "fontSize": 15, "color": "#8c8c8c"},
 "encoding": {"x": {"datum": 50.97}, "y": {"datum": 4.77}, "text": {"field": "label"}}},
{"data": {"values": [{}]},
 "mark": {"type": "rule", "color": "#7a7a7a", "strokeWidth": 2.5},
 "encoding": {"x": {"datum": 29.79}, "x2": {"datum": 51.86}, "y": {"datum": -0.907}}},
{"data": {"values": [{}]},
 "mark": {"type": "rule", "color": "#7a7a7a", "strokeWidth": 2.5},
 "encoding": {"x": {"datum": 29.79}, "y": {"datum": -0.907}, "y2": {"datum": 10.5}}},
{"data": {"values": [{}]},
 "mark": {"type": "rule", "color": "#7a7a7a", "strokeWidth": 2.5},
 "encoding": {"x": {"datum": 51.86}, "y": {"datum": -0.907}, "y2": {"datum": 10.5}}}
]
}
]
}
